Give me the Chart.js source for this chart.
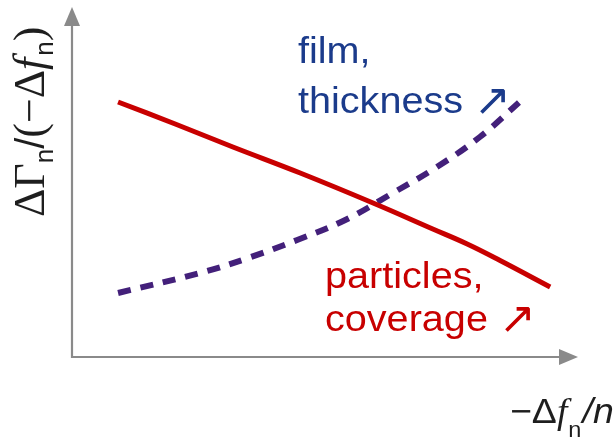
<!DOCTYPE html>
<html>
<head>
<meta charset="utf-8">
<script src="https://cdn.jsdelivr.net/npm/chart.js@4/dist/chart.umd.min.js"></script>
<style>
  html, body { margin: 0; padding: 0; background: #ffffff; }
  #wrap { width: 614px; height: 442px; }
</style>
</head>
<body>
<div id="wrap"><canvas id="c" width="614" height="442"></canvas></div>
<script>
// Schematic curves: normalised dissipation vs. frequency shift
const particlesX = [0.91, 2.04, 3.18, 4.51, 5.95, 7.13, 7.81, 8.46, 9.45];
const particlesY = [5.10, 4.66, 4.20, 3.68, 3.08, 2.56, 2.26, 1.93, 1.40];
const filmX = [0.91, 2.53, 3.48, 4.45, 5.40, 6.34, 7.21, 8.06, 8.91];
const filmY = [1.28, 1.68, 1.98, 2.34, 2.74, 3.28, 3.80, 4.40, 5.16];
const xRange = [0, 10];
const yRange = [0, 7];

const toPoints = (xs, ys) => xs.map((x, i) => ({ x: x, y: ys[i] }));

const RED = '#c80000';
const PURPLE = '#43207a';
const NAVY = '#1b3b8b';
const AXIS = '#8a8a8a';
const INK = '#1e1e1e';

// draw a sequence of text runs with individual fonts / vertical offsets
function drawRuns(ctx, x, y, runs, sx) {
  ctx.save();
  ctx.translate(x, y);
  ctx.scale(sx || 1, 1);
  let cx = 0;
  for (const r of runs) {
    ctx.font = r.font;
    ctx.fillText(r.t, cx, r.dy || 0);
    cx += ctx.measureText(r.t).width + (r.gap || 0);
  }
  ctx.restore();
}

const annotations = {
  id: 'annotations',
  beforeDatasetsDraw(chart) {
    const ctx = chart.ctx;
    const xs = chart.scales.x, ys = chart.scales.y;
    const x0 = xs.getPixelForValue(xRange[0]);
    const x1 = xs.getPixelForValue(xRange[1]);
    const y0 = ys.getPixelForValue(yRange[0]);
    const y1 = ys.getPixelForValue(yRange[1]);
    ctx.save();
    ctx.strokeStyle = AXIS;
    ctx.fillStyle = AXIS;
    ctx.lineWidth = 2.2;
    ctx.beginPath();
    ctx.moveTo(x0, y0 + 1);
    ctx.lineTo(x0, y1 + 16);
    ctx.moveTo(x0 - 1, y0);
    ctx.lineTo(x1 - 16, y0);
    ctx.stroke();
    // arrow heads
    ctx.beginPath();
    ctx.moveTo(x0, y1);
    ctx.lineTo(x0 - 8, y1 + 19);
    ctx.lineTo(x0 + 8, y1 + 19);
    ctx.closePath();
    ctx.fill();
    ctx.beginPath();
    ctx.moveTo(x1, y0);
    ctx.lineTo(x1 - 19, y0 - 8);
    ctx.lineTo(x1 - 19, y0 + 8);
    ctx.closePath();
    ctx.fill();
    ctx.restore();
  },
  afterDraw(chart) {
    const ctx = chart.ctx;
    ctx.save();
    ctx.textBaseline = 'alphabetic';
    ctx.textAlign = 'left';

    const sans = '36px "Liberation Sans", Arial, sans-serif';
    const arrowFont = '44px "DejaVu Sans", sans-serif';

    // film label
    ctx.fillStyle = NAVY;
    drawRuns(ctx, 298, 63, [{ t: 'film,', font: sans }], 1.1);
    drawRuns(ctx, 298, 113, [{ t: 'thickness', font: sans }], 1.1);
    drawRuns(ctx, 474, 115, [{ t: '\u2197', font: arrowFont }], 1);

    // particles label
    ctx.fillStyle = RED;
    drawRuns(ctx, 325, 288, [{ t: 'particles,', font: sans }], 1.1);
    drawRuns(ctx, 325, 331, [{ t: 'coverage', font: sans }], 1.1);
    drawRuns(ctx, 499, 333, [{ t: '\u2197', font: arrowFont }], 1);

    // y axis title (rotated)
    ctx.fillStyle = INK;
    const serif = '44px "Liberation Serif", "Times New Roman", serif';
    const serifIt = 'italic 44px "Liberation Serif", "Times New Roman", serif';
    const sub = '26px "Liberation Sans", Arial, sans-serif';
    ctx.save();
    ctx.translate(44, 217);
    ctx.rotate(-Math.PI / 2);
    drawRuns(ctx, 0, 0, [
      { t: '\u0394', font: serif },
      { t: '\u0393', font: serif },
      { t: 'n', font: sub, dy: 9 },
      { t: '/', font: '40px "Liberation Sans", Arial, sans-serif' },
      { t: '(', font: serif },
      { t: '\u2212', font: serif },
      { t: '\u0394', font: serif },
      { t: 'f', font: serifIt, gap: 2 },
      { t: 'n', font: sub, dy: 9 },
      { t: ')', font: serif }
    ], 1);
    ctx.restore();

    // x axis title
    const xs = '35px "Liberation Sans", Arial, sans-serif';
    drawRuns(ctx, 510, 423, [
      { t: '\u2212', font: xs },
      { t: '\u0394', font: xs },
      { t: 'f', font: 'italic 35px "Liberation Serif", serif', gap: 1 },
      { t: 'n', font: '22px "Liberation Sans", Arial, sans-serif', dy: 14, gap: 1 },
      { t: '/', font: 'italic 35px "Liberation Sans", Arial, sans-serif' },
      { t: 'n', font: 'italic 35px "Liberation Sans", Arial, sans-serif' }
    ], 1.07);
    ctx.restore();
  }
};

new Chart(document.getElementById('c'), {
  type: 'line',
  data: {
    datasets: [
      {
        label: 'particles, coverage',
        data: toPoints(particlesX, particlesY),
        borderColor: RED,
        borderWidth: 5,
        pointRadius: 0,
        fill: false,
        tension: 0.4,
        borderCapStyle: 'butt'
      },
      {
        label: 'film, thickness',
        data: toPoints(filmX, filmY),
        borderColor: PURPLE,
        borderWidth: 6,
        borderDash: [13, 10],
        pointRadius: 0,
        fill: false,
        tension: 0.4,
        borderCapStyle: 'butt'
      }
    ]
  },
  options: {
    responsive: false,
    animation: false,
    devicePixelRatio: 1,
    layout: { padding: { left: 72, right: 36, top: 7, bottom: 85 } },
    plugins: { legend: { display: false }, tooltip: { enabled: false } },
    scales: {
      x: { type: 'linear', min: xRange[0], max: xRange[1], display: false },
      y: { type: 'linear', min: yRange[0], max: yRange[1], display: false }
    }
  },
  plugins: [annotations]
});
</script>
</body>
</html>
